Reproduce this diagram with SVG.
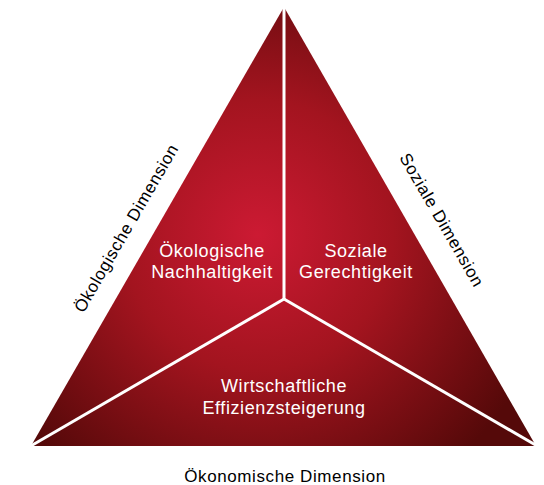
<svg xmlns="http://www.w3.org/2000/svg" width="544" height="485" viewBox="0 0 544 485">
<defs>
<radialGradient id="g" gradientUnits="userSpaceOnUse" cx="258" cy="235" r="300">
<stop offset="0" stop-color="#cc1a33"/>
<stop offset="0.45" stop-color="#a3141f"/>
<stop offset="1" stop-color="#550909"/>
</radialGradient>
<style>
.in{font-family:"Liberation Sans",Arial,sans-serif;font-size:18px;fill:#fff;text-anchor:middle;letter-spacing:0.6px}
.out{font-family:"Liberation Sans",Arial,sans-serif;font-size:17px;fill:#000;text-anchor:middle;letter-spacing:0.6px}
.sep{stroke:#fff;stroke-width:3;fill:none}
</style>
</defs>
<g id="triangle">
<polygon points="284,7 31,446 536,446" fill="url(#g)"/>
</g>
<g id="connectors">
<line class="sep" x1="284" y1="299" x2="284" y2="5"/>
<line class="sep" x1="284" y1="299" x2="29" y2="447"/>
<line class="sep" x1="284" y1="299" x2="539" y2="447"/>
</g>
<g id="oekologisch">
<text class="in" x="212" y="257">Ökologische</text>
<text class="in" x="212" y="278">Nachhaltigkeit</text>
</g>
<g id="sozial">
<text class="in" x="356" y="257">Soziale</text>
<text class="in" x="356" y="278">Gerechtigkeit</text>
</g>
<g id="wirtschaft">
<text class="in" x="284" y="392">Wirtschaftliche</text>
<text class="in" x="284" y="414">Effizienzsteigerung</text>
</g>
<g id="dim-oeko">
<text class="out" transform="translate(126,228) rotate(-60)" y="6">Ökologische Dimension</text>
</g>
<g id="dim-sozial">
<text class="out" transform="translate(442,220) rotate(60)" y="6">Soziale Dimension</text>
</g>
<g id="dim-oekonom">
<text class="out" x="285" y="482">Ökonomische Dimension</text>
</g>
</svg>
